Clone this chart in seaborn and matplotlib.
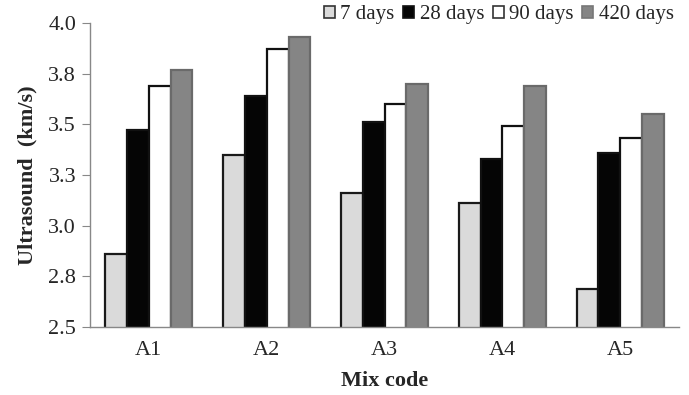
import numpy as np
import pandas as pd
import matplotlib
matplotlib.use("Agg")
import matplotlib.pyplot as plt
import seaborn as sns

# Datos
mixes = ["A1", "A2", "A3", "A4", "A5"]
ages = ["7 days", "28 days", "90 days", "420 days"]
v_7 = [2.86, 3.35, 3.16, 3.11, 2.69]
v_28 = [3.47, 3.64, 3.51, 3.33, 3.36]
v_90 = [3.69, 3.87, 3.60, 3.49, 3.43]
v_420 = [3.77, 3.93, 3.70, 3.69, 3.55]

y_ticks = [2.5, 2.75, 3.0, 3.25, 3.5, 3.75, 4.0]
y_tick_labels = ["2.5", "2.8", "3.0", "3.3", "3.5", "3.8", "4.0"]

colors = ["#dadada", "#050505", "#ffffff", "#858585"]
edges = ["#1a1a1a", "#111111", "#111111", "#6a6a6a"]

rows = []
for age, vals in zip(ages, [v_7, v_28, v_90, v_420]):
    for m, v in zip(mixes, vals):
        rows.append({"Mix": m, "Age": age, "v": v})
df = pd.DataFrame(rows)

sns.set_style("white")
plt.rcParams["font.family"] = ["Liberation Serif", "DejaVu Serif"]

fig = plt.figure(figsize=(6.89, 3.95), dpi=100)
ax = fig.add_axes([0.1306, 0.172, 0.855, 0.770])

sns.barplot(data=df, x="Mix", y="v", hue="Age", order=mixes, hue_order=ages,
            palette=colors, width=0.74, saturation=1, errorbar=None, ax=ax)

# Bordes por serie
for cont, ec in zip(ax.containers, edges):
    for bar in cont:
        bar.set_edgecolor(ec)
        bar.set_linewidth(1.6)

ax.set_ylim(2.5, 4.0)
ax.set_xlim(-0.5, 4.5)
ax.set_yticks(y_ticks)
ax.set_yticklabels(y_tick_labels, fontsize=16)
ax.set_xticks(range(len(mixes)))
ax.set_xticklabels(mixes, fontsize=16)
ax.set_xticks(np.arange(-0.5, 5, 1), minor=True)
ax.tick_params(axis="x", which="major", length=0, pad=10)
ax.tick_params(axis="x", which="minor", length=6, direction="out", color="#888888")
ax.tick_params(axis="y", length=6, direction="out", color="#888888", left=True, pad=4)

for s in ["top", "right"]:
    ax.spines[s].set_visible(False)
for s in ["left", "bottom"]:
    ax.spines[s].set_color("#888888")
    ax.spines[s].set_linewidth(1.0)

ax.set_xlabel("Mix code", fontsize=16, fontweight="bold", labelpad=8)
ax.set_ylabel("Ultrasound  (km/s)", fontsize=16, fontweight="bold", labelpad=8)

leg = ax.legend(loc="upper right", bbox_to_anchor=(1.005, 1.085), ncol=4, frameon=False,
                fontsize=15, handlelength=0.55, handleheight=0.55,
                handletextpad=0.25, columnspacing=0.4, borderaxespad=0)
for h, ec in zip(leg.legend_handles, ["#333333", "#111111", "#333333", "#777777"]):
    h.set_edgecolor(ec)
    h.set_linewidth(1.2)

fig.savefig("out.png", dpi=100)
